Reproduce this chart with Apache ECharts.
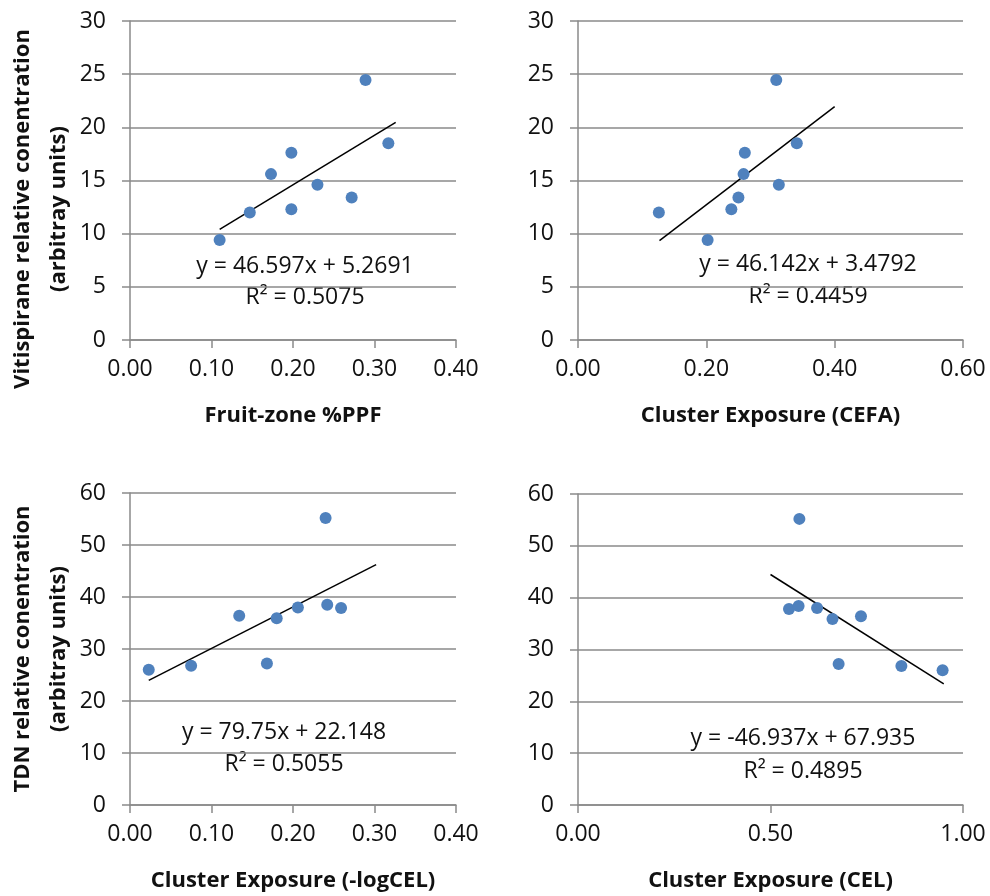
<!DOCTYPE html>
<html>
<head>
<meta charset="utf-8">
<script src="https://cdn.jsdelivr.net/npm/echarts@6/dist/echarts.min.js"></script>
<style>
html,body{margin:0;padding:0;background:#fff;}
#chart{width:990px;height:896px;}
</style>
</head>
<body>
<div id="chart"></div>
<script>
// ---- Data ----
const ppf      = [0.110, 0.147, 0.173, 0.198, 0.198, 0.230, 0.272, 0.289, 0.317];
const vitiPPF  = [9.4, 12.0, 15.6, 17.6, 12.3, 14.6, 13.4, 24.45, 18.5];
const cefa     = [0.126, 0.202, 0.239, 0.250, 0.258, 0.260, 0.313, 0.309, 0.341];
const vitiCEFA = [12.0, 9.4, 12.3, 13.4, 15.6, 17.6, 14.6, 24.45, 18.5];
const logcel   = [0.023, 0.075, 0.134, 0.168, 0.180, 0.206, 0.240, 0.242, 0.259];
const tdnLog   = [26.0, 26.8, 36.4, 27.2, 35.9, 38.0, 55.2, 38.5, 37.9];
const cel      = [0.548, 0.573, 0.575, 0.621, 0.661, 0.677, 0.735, 0.840, 0.947];
const tdnCEL   = [37.8, 38.4, 55.2, 38.0, 35.9, 27.2, 36.4, 26.8, 26.0];

// trendline endpoints [x, y]
const trend1 = [[0.110, 10.4], [0.326, 20.46]];
const trend2 = [[0.127, 9.34], [0.400, 21.94]];
const trend3 = [[0.023, 23.98], [0.302, 46.23]];
const trend4 = [[0.500, 44.47], [0.950, 23.35]];

const eq1 = ['y = 46.597x + 5.2691', 'R² = 0.5075'];
const eq2 = ['y = 46.142x + 3.4792', 'R² = 0.4459'];
const eq3 = ['y = 79.75x + 22.148', 'R² = 0.5055'];
const eq4 = ['y = -46.937x + 67.935', 'R² = 0.4895'];

const xNames = ['Fruit-zone %PPF', 'Cluster Exposure (CEFA)', 'Cluster Exposure (-logCEL)', 'Cluster Exposure (CEL)'];
const yTitles = [['Vitispirane relative conentration', '(arbitray units)'], ['TDN relative conentration', '(arbitray units)']];

// ---- Styling ----
const FONT = 'Open Sans';
const GRID_COLOR = '#8a8a8a';
const DOT = '#4F81BD';

const grids = [
  {left:130, top:21,  width:326, height:319},
  {left:578, top:21,  width:385, height:319},
  {left:130, top:493, width:326, height:312},
  {left:578, top:494, width:385, height:311}
];
const xCfg = [
  {max:0.4, interval:0.1},
  {max:0.6, interval:0.2},
  {max:0.4, interval:0.1},
  {max:1.0, interval:0.5}
];
const yCfg = [
  {max:30, interval:5},
  {max:30, interval:5},
  {max:60, interval:10},
  {max:60, interval:10}
];

const xAxis = xCfg.map((c, i) => ({
  type:'value', gridIndex:i, min:0, max:c.max, interval:c.interval,
  name:xNames[i], nameLocation:'middle', nameGap:65,
  nameTextStyle:{fontFamily:FONT, fontWeight:'bold', fontSize:22, color:'#111'},
  axisLine:{show:true, onZero:false, lineStyle:{color:GRID_COLOR, width:1.5}},
  axisTick:{show:true, length:8, lineStyle:{color:GRID_COLOR, width:1.5}},
  axisLabel:{fontFamily:FONT, fontSize:23, color:'#111', margin:18,
             formatter: v => v.toFixed(2)},
  splitLine:{show:false}
}));
const yAxis = yCfg.map((c, i) => ({
  type:'value', gridIndex:i, min:0, max:c.max, interval:c.interval,
  axisLine:{show:true, onZero:false, lineStyle:{color:GRID_COLOR, width:1.5}},
  axisTick:{show:true, length:8, lineStyle:{color:GRID_COLOR, width:1.5}},
  axisLabel:{fontFamily:FONT, fontSize:23, color:'#111', margin:24},
  splitLine:{show:true, lineStyle:{color:GRID_COLOR, width:1.5}}
}));

const pairs = [[ppf, vitiPPF], [cefa, vitiCEFA], [logcel, tdnLog], [cel, tdnCEL]];
const trends = [trend1, trend2, trend3, trend4];
const series = [];
pairs.forEach((p, i) => {
  series.push({
    type:'line', xAxisIndex:i, yAxisIndex:i, data:trends[i],
    showSymbol:false, symbol:'none', silent:true,
    lineStyle:{color:'#000', width:1.5}, z:3
  });
  series.push({
    type:'scatter', xAxisIndex:i, yAxisIndex:i,
    data:p[0].map((x, k) => [x, p[1][k]]),
    symbolSize:12, itemStyle:{color:DOT, opacity:1}, z:4
  });
});

const eqs = [eq1, eq2, eq3, eq4];
const eqPos = [[305, 266, 297], [808, 264, 296], [284, 732, 764], [803, 738, 771]];
const graphic = [];
eqs.forEach((e, i) => {
  graphic.push({type:'text', x:eqPos[i][0], y:eqPos[i][1],
    style:{text:e[0], font:'23px "' + FONT + '"', fill:'#111', align:'center', verticalAlign:'middle'}});
  graphic.push({type:'text', x:eqPos[i][0], y:eqPos[i][2],
    style:{text:e[1], font:'23px "' + FONT + '"', fill:'#111', align:'center', verticalAlign:'middle'}});
});
const yTitlePos = [[23, 59, 209], [23, 59, 649]];
yTitles.forEach((t, i) => {
  graphic.push({type:'text', x:yTitlePos[i][0], y:yTitlePos[i][2], rotation:Math.PI/2,
    style:{text:t[0], font:'bold 22px "' + FONT + '"', fill:'#111', align:'center', verticalAlign:'middle'}});
  graphic.push({type:'text', x:yTitlePos[i][1], y:yTitlePos[i][2], rotation:Math.PI/2,
    style:{text:t[1], font:'bold 22px "' + FONT + '"', fill:'#111', align:'center', verticalAlign:'middle'}});
});

const chart = echarts.init(document.getElementById('chart'), null, {renderer:'canvas'});
chart.setOption({
  animation:false,
  backgroundColor:'#fff',
  grid:grids,
  xAxis:xAxis,
  yAxis:yAxis,
  series:series,
  graphic:graphic
});
</script>
</body>
</html>
